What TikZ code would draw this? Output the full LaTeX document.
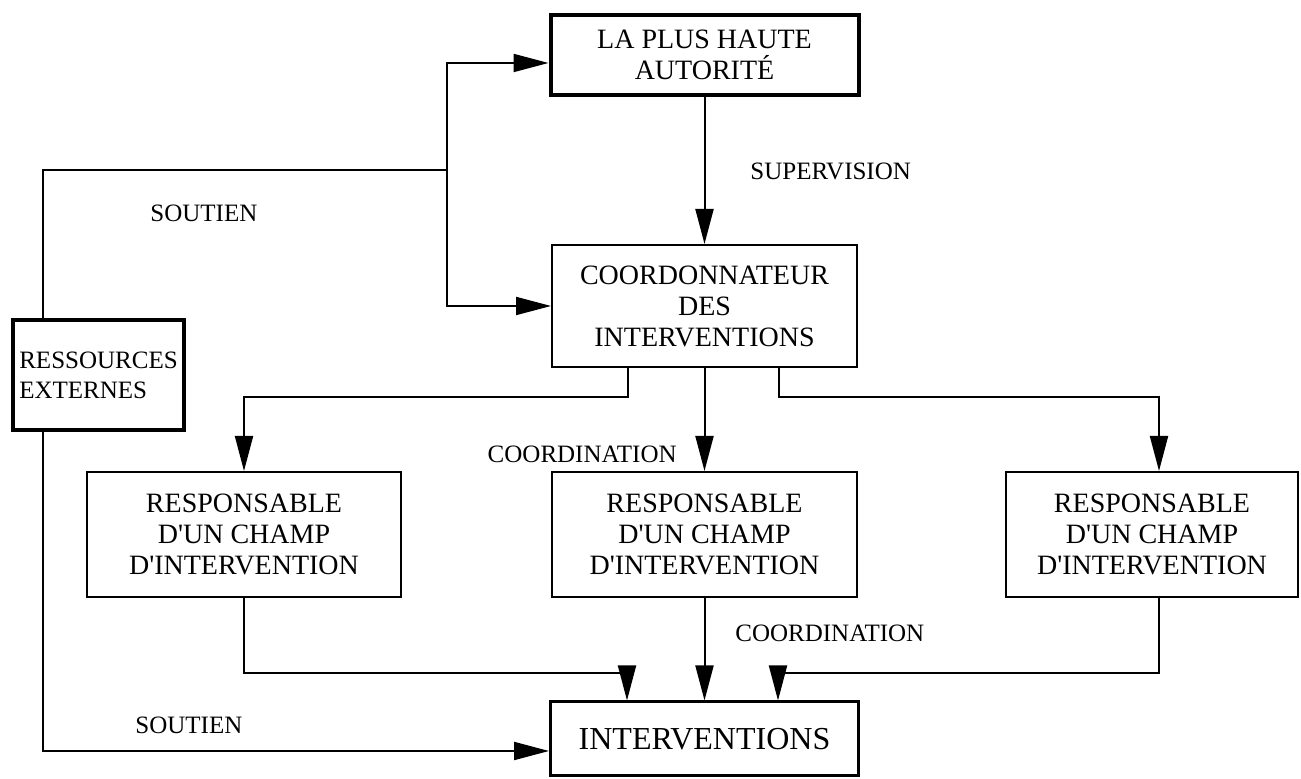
\documentclass[tikz,border=0pt]{standalone}
\usepackage{fontspec}
\setmainfont{Liberation Serif}
\usetikzlibrary{arrows.meta,calc}

\begin{document}
\begin{tikzpicture}[x=0.5pt,y=-0.5pt,
    box/.style={draw,line width=1pt,inner sep=0pt,align=center,font=\fontsize{14}{15.5}\selectfont},
    lbl/.style={inner sep=0pt,font=\fontsize{12.5}{15}\selectfont},
    arr/.style={line width=1pt,-{Triangle[length=17.5pt,width=9pt]}},
    lin/.style={line width=1pt}]
  \useasboundingbox (0,0) rectangle (1301,779);
  % boites
  \node[box,line width=2pt,minimum width=154pt,minimum height=40pt] (haute) at (704.5,55) {LA PLUS HAUTE\\AUTORITÉ};
  \node[box,minimum width=152.5pt,minimum height=61pt] (coord) at (704.5,306) {COORDONNATEUR\\DES\\INTERVENTIONS};
  \node[box,minimum width=157pt,minimum height=62.5pt] (resp1) at (244,534.5) {RESPONSABLE\\D\textquotesingle UN CHAMP\\D\textquotesingle INTERVENTION};
  \node[box,minimum width=152.5pt,minimum height=62.5pt] (resp2) at (704.5,534.5) {RESPONSABLE\\D\textquotesingle UN CHAMP\\D\textquotesingle INTERVENTION};
  \node[box,minimum width=146pt,minimum height=62.5pt] (resp3) at (1152,534.5) {RESPONSABLE\\D\textquotesingle UN CHAMP\\D\textquotesingle INTERVENTION};
  \node[box,line width=1.5pt,minimum width=154pt,minimum height=37pt,font=\fontsize{16}{18}\selectfont] (interv) at (704.5,739) {INTERVENTIONS};
  \node[box,line width=2pt,minimum width=85.5pt,minimum height=55pt,align=left,font=\fontsize{12.5}{15}\selectfont] (ress) at (98.5,375) {RESSOURCES\\EXTERNES};
  % points de passage
  \coordinate (sl) at (43,170);
  \coordinate (sj) at (447,170);
  \coordinate (cl) at (628,397);
  \coordinate (cr) at (779,397);
  \coordinate (il) at (627,673);
  \coordinate (ir) at (778,673);
  \coordinate (rr) at (1159,0);
  % soutien
  \draw[lin] (ress.north -| sl) -- (sl) -- (sj);
  \draw[arr] (sj) |- ([yshift=-4pt]haute.west);
  \draw[arr] (sj) |- (coord.west);
  \draw[arr] (ress.south -| sl) |- ([yshift=-6pt]interv.west);
  % supervision, coordination
  \draw[arr] (haute.south) -- (coord.north);
  \draw[arr] (coord.south) -- (resp2.north);
  \draw[arr] (coord.south -| cl) -- (cl) -| (resp1.north);
  \draw[arr] (coord.south -| cr) -- (cr) -| (resp3.north -| rr);
  \draw[arr] (resp2.south) -- (interv.north);
  \draw[arr] (resp1.south) |- (il) -- (interv.north -| il);
  \draw[arr] (resp3.south -| rr) |- (ir) -- (interv.north -| ir);
  % etiquettes
  \node[lbl,anchor=base west] (sup) at (750,180) {SUPERVISION};
  \node[lbl,anchor=base west] (sout1) at (150,222) {SOUTIEN};
  \node[lbl,anchor=base east] (coo1) at (677,463) {COORDINATION};
  \node[lbl,anchor=base west] (coo2) at (735,642) {COORDINATION};
  \node[lbl,anchor=base west] (sout2) at (135,734) {SOUTIEN};
\end{tikzpicture}
\end{document}
